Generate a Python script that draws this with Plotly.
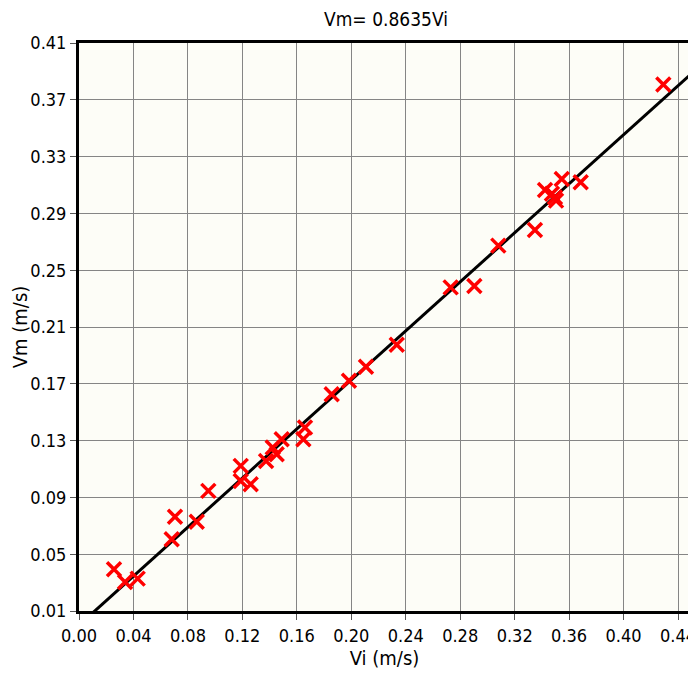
import plotly.graph_objects as go

vi = [0.0257, 0.0338, 0.0431, 0.0681, 0.0705, 0.0865, 0.0950, 0.1188, 0.1188, 0.1261,
      0.1374, 0.1423, 0.1452, 0.1489, 0.1648, 0.1660, 0.1856, 0.1983, 0.2108, 0.2334,
      0.2730, 0.2904, 0.3080, 0.3349, 0.3423, 0.3496, 0.3504, 0.3474, 0.3546, 0.3685,
      0.4292]
vm = [0.0394, 0.0304, 0.0328, 0.0605, 0.0763, 0.0729, 0.0946, 0.1122, 0.1016, 0.0993,
      0.1157, 0.1251, 0.1204, 0.1310, 0.1310, 0.1392, 0.1627, 0.1721, 0.1820, 0.1975,
      0.2379, 0.2389, 0.2673, 0.2783, 0.3065, 0.3013, 0.2990, 0.3039, 0.3143, 0.3119,
      0.3807]

slope = 0.8635
fit_x = [0.006, 0.449]
fit_y = [slope * v for v in fit_x]

x_ticks = [0.00, 0.04, 0.08, 0.12, 0.16, 0.20, 0.24, 0.28, 0.32, 0.36, 0.40, 0.44]
y_ticks = [0.01, 0.05, 0.09, 0.13, 0.17, 0.21, 0.25, 0.29, 0.33, 0.37, 0.41]

FONT = "DejaVu Sans Condensed, Liberation Sans Narrow, Arial Narrow, Liberation Sans, sans-serif"

W, H = 688, 665  # page body has an 8px margin inside the 696x673 window

fig = go.Figure()
fig.add_trace(go.Scatter(x=fit_x, y=fit_y, mode="lines",
                         line=dict(color="black", width=3), showlegend=False))
fig.add_trace(go.Scatter(x=vi, y=vm, mode="markers",
                         marker=dict(symbol="x-thin", size=14,
                                     line=dict(color="#ff0000", width=3.5)),
                         showlegend=False, cliponaxis=False))

fig.update_layout(
    width=W, height=H,
    paper_bgcolor="white", plot_bgcolor="#fdfdf7",
    margin=dict(l=71, r=6, t=35, b=62),
    font=dict(family=FONT, size=18, color="black"),
    title=dict(text="Vm= 0.8635Vi", x=(386 - 8) / W, xref="container", xanchor="center",
               y=1 - (19 - 8) / H, yref="container", yanchor="middle", automargin=False,
               font=dict(family=FONT, size=19)),
    xaxis=dict(range=[0, 0.4488], tickvals=x_ticks, tickformat=".2f",
               showgrid=True, gridcolor="#858585", gridwidth=1,
               showline=True, linecolor="black", linewidth=3, mirror=True,
               ticks="outside", ticklen=6, tickcolor="#555", tickwidth=1,
               zeroline=False, automargin=False, ticklabeloverflow="allow",
               title=dict(text="Vi (m/s)", standoff=2, font=dict(size=20))),
    yaxis=dict(range=[0.01, 0.41], tickvals=y_ticks, tickformat=".2f",
               showgrid=True, gridcolor="#858585", gridwidth=1,
               showline=True, linecolor="black", linewidth=3, mirror=True,
               ticks="outside", ticklen=6, tickcolor="#555", tickwidth=1,
               zeroline=False, automargin=False, ticklabeloverflow="allow",
               title=dict(text="Vm (m/s)", standoff=0, font=dict(size=20))),
)

fig.write_html("out.html")
